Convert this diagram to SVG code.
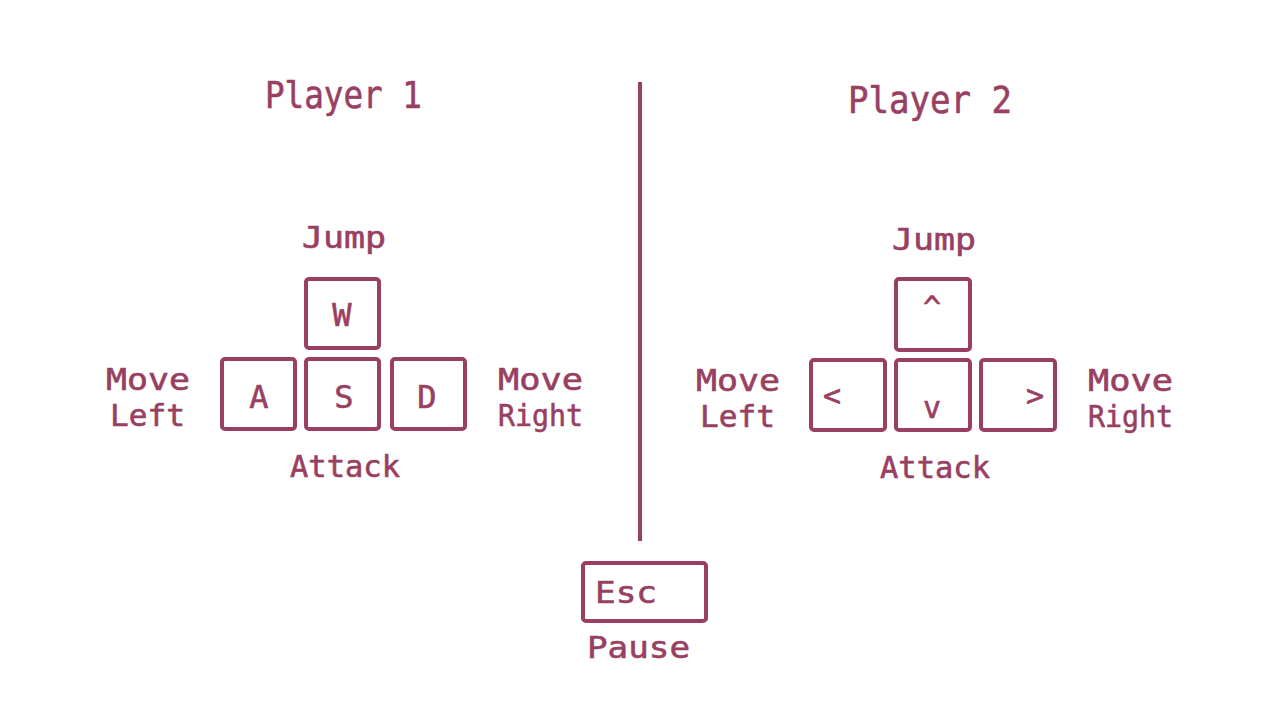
<svg xmlns="http://www.w3.org/2000/svg" width="1280" height="720" viewBox="0 0 1280 720">
<style>
.t{font-family:"DejaVu Sans Mono","Liberation Mono",monospace;fill:#993f62;stroke:#993f62;stroke-width:0.6;}
.lb{font-size:30px;}
.ky{font-size:32px;}
.ti{font-size:38px;}
.k{fill:none;stroke:#993f62;stroke-width:4;}
.ln{stroke:#993f62;stroke-width:4;}
</style>
<rect width="1280" height="720" fill="#ffffff"/>
<g id="connectors">
<line class="ln" x1="640" y1="82" x2="640" y2="541"/>
</g>
<g id="title1"><text class="t ti" x="265" y="108" textLength="157" lengthAdjust="spacingAndGlyphs">Player 1</text></g>
<g id="title2"><text class="t ti" x="848" y="113" textLength="164" lengthAdjust="spacingAndGlyphs">Player 2</text></g>
<g id="p1-jump"><text class="t lb" x="302" y="248" textLength="84" lengthAdjust="spacingAndGlyphs">Jump</text></g>
<g id="p1-w"><rect class="k" x="306" y="279" width="73" height="69" rx="3"/><text class="t ky" x="342" y="326" text-anchor="middle">W</text></g>
<g id="p1-a"><rect class="k" x="222" y="359" width="73" height="70" rx="3"/><text class="t ky" x="259" y="408" text-anchor="middle">A</text></g>
<g id="p1-s"><rect class="k" x="306" y="359" width="73" height="70" rx="3"/><text class="t ky" x="344" y="408" text-anchor="middle">S</text></g>
<g id="p1-d"><rect class="k" x="392" y="359" width="73" height="70" rx="3"/><text class="t ky" x="427" y="408" text-anchor="middle">D</text></g>
<g id="p1-left"><text class="t lb" x="106" y="390" textLength="84" lengthAdjust="spacingAndGlyphs">Move</text><text class="t lb" x="110" y="426" textLength="75" lengthAdjust="spacingAndGlyphs">Left</text></g>
<g id="p1-right"><text class="t lb" x="498" y="390" textLength="85" lengthAdjust="spacingAndGlyphs">Move</text><text class="t lb" x="498" y="426" textLength="85" lengthAdjust="spacingAndGlyphs">Right</text></g>
<g id="p1-attack"><text class="t lb" x="290" y="477" textLength="110" lengthAdjust="spacingAndGlyphs">Attack</text></g>
<g id="p2-jump"><text class="t lb" x="892" y="250" textLength="84" lengthAdjust="spacingAndGlyphs">Jump</text></g>
<g id="p2-up"><rect class="k" x="896" y="279" width="74" height="71" rx="3"/><text class="t lb" x="932" y="318" text-anchor="middle">^</text></g>
<g id="p2-leftkey"><rect class="k" x="811" y="360" width="74" height="70" rx="3"/><text class="t lb" x="832" y="406" text-anchor="middle">&lt;</text></g>
<g id="p2-down"><rect class="k" x="896" y="360" width="74" height="70" rx="3"/><text class="t lb" x="932" y="418" text-anchor="middle">v</text></g>
<g id="p2-rightkey"><rect class="k" x="981" y="360" width="74" height="70" rx="3"/><text class="t lb" x="1035" y="406" text-anchor="middle">&gt;</text></g>
<g id="p2-left"><text class="t lb" x="696" y="391" textLength="84" lengthAdjust="spacingAndGlyphs">Move</text><text class="t lb" x="700" y="427" textLength="75" lengthAdjust="spacingAndGlyphs">Left</text></g>
<g id="p2-right"><text class="t lb" x="1088" y="391" textLength="85" lengthAdjust="spacingAndGlyphs">Move</text><text class="t lb" x="1088" y="427" textLength="85" lengthAdjust="spacingAndGlyphs">Right</text></g>
<g id="p2-attack"><text class="t lb" x="880" y="478" textLength="110" lengthAdjust="spacingAndGlyphs">Attack</text></g>
<g id="esc"><rect class="k" x="583" y="563" width="123" height="58" rx="3"/><text class="t lb" x="595" y="603" textLength="62" lengthAdjust="spacingAndGlyphs">Esc</text></g>
<g id="pause"><text class="t lb" x="587" y="658" textLength="103" lengthAdjust="spacingAndGlyphs">Pause</text></g>
</svg>
